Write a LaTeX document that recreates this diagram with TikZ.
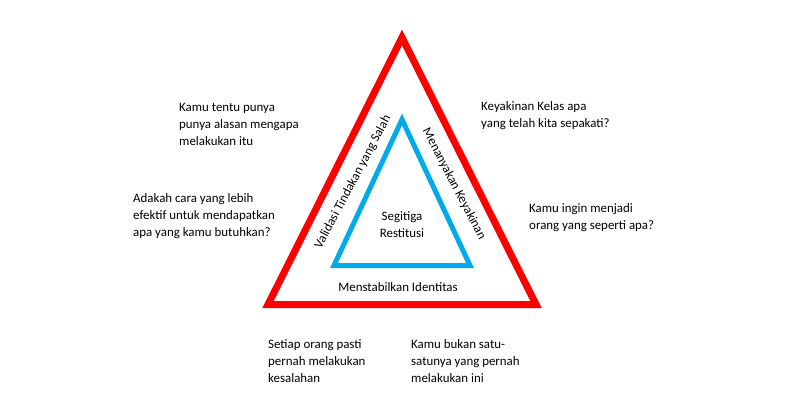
\documentclass[tikz,border=0pt]{standalone}
\usepackage{fontspec}
\setmainfont{Carlito}
\usepackage{xcolor}
\usepackage{tikz}
\usetikzlibrary{positioning,calc}
\definecolor{outerred}{RGB}{255,0,0}
\definecolor{innerblue}{RGB}{0,170,235}

\begin{document}
\begin{tikzpicture}[x=1pt,y=-1pt,
    note/.style={anchor=west,align=left,inner sep=0pt,font=\fontsize{12.9}{17}\selectfont},
    side/.style={inner sep=0pt,font=\fontsize{12.9}{17}\selectfont}]
    \useasboundingbox (0,0) rectangle (800,408);
    % triangles
    \coordinate (rtop) at (402,37.5);
    \coordinate (rleft) at (268,304.5);
    \coordinate (rright) at (536,304.5);
    \coordinate (btop) at (402,119.5);
    \coordinate (bleft) at (334,265.5);
    \coordinate (bright) at (470,265.5);
    \draw[outerred, line width=7pt, line join=miter] (rtop) -- (rleft) -- (rright) -- cycle;
    \draw[innerblue, line width=5pt, line join=miter] (btop) -- (bleft) -- (bright) -- cycle;
    % labels inside
    \node[side, align=center] (center) at (402,224.5) {Segitiga\\Restitusi};
    \node[side, rotate=62] (validasi) at (353,182) {Validasi Tindakan yang Salah};
    \node[side, rotate=-62.5] (menanyakan) at (454,184) {Menanyakan Keyakinan};
    \node[side] (identitas) at (398,287) {Menstabilkan Identitas};
    % questions around
    \node[note] (alasan) at (179,124) {Kamu tentu punya\\punya alasan mengapa\\melakukan itu};
    \node[note] (efektif) at (133,216) {Adakah cara yang lebih\\efektif untuk mendapatkan\\apa yang kamu butuhkan?};
    \node[note] (kelas) at (481,115.5) {Keyakinan Kelas apa\\yang telah kita sepakati?};
    \node[note] (menjadi) at (529,217.5) {Kamu ingin menjadi\\orang yang seperti apa?};
    \node[note] (setiap) at (268,361) {Setiap orang pasti\\pernah melakukan\\kesalahan};
    \node[note] (bukan) at (411,361) {Kamu bukan satu-\\satunya yang pernah\\melakukan ini};
\end{tikzpicture}
\end{document}
